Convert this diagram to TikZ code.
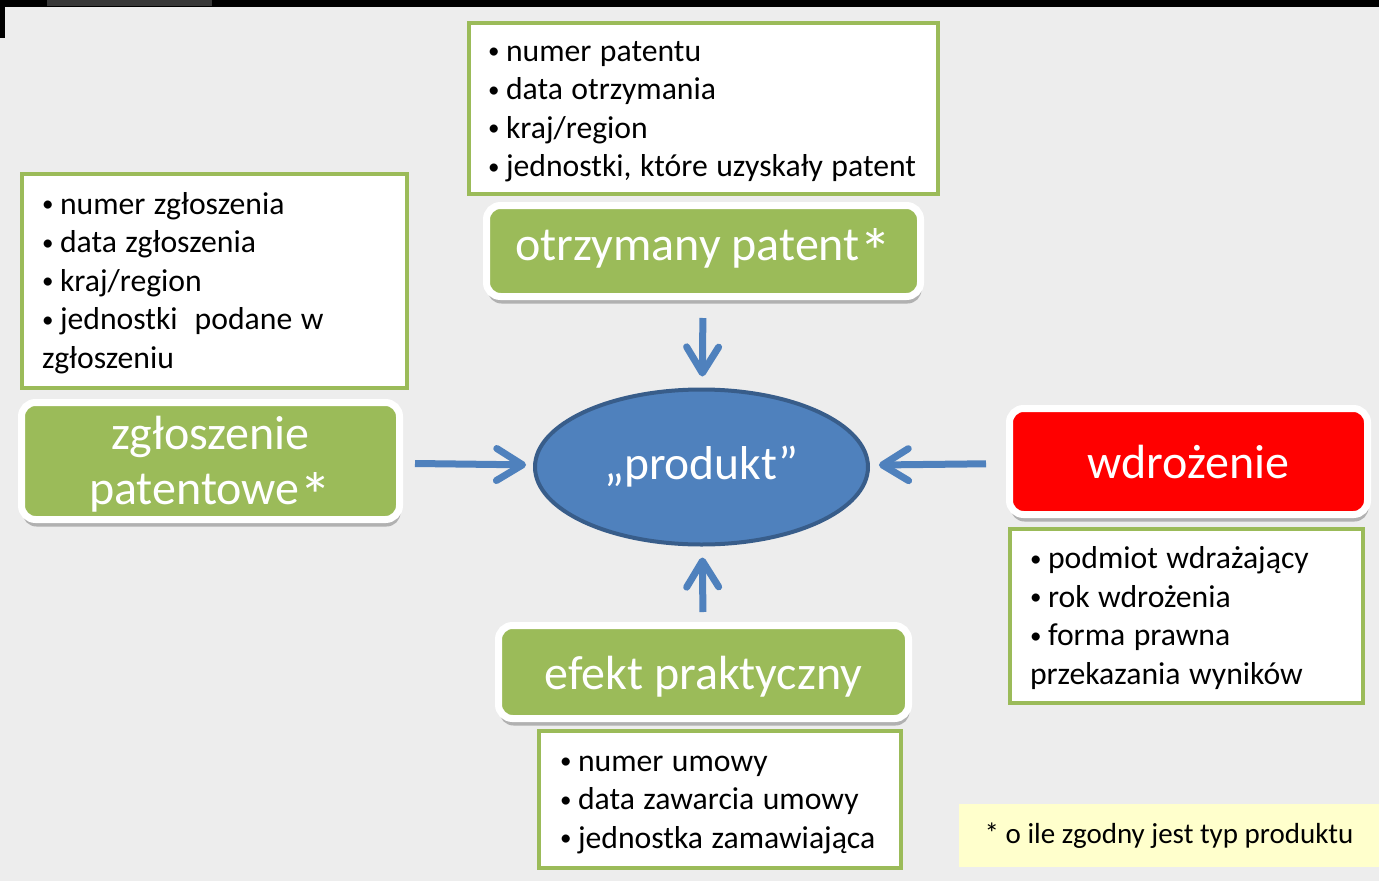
\documentclass[tikz,border=0pt]{standalone}
\usepackage{fontspec}
\setmainfont{Carlito}
\usepackage{graphicx}
\usetikzlibrary{shapes.geometric,arrows.meta,shadows}

\definecolor{pgreen}{HTML}{9BBB59}
\definecolor{pblue}{HTML}{4F81BD}
\definecolor{pblued}{HTML}{385D8A}
\definecolor{pred}{HTML}{FF0000}
\definecolor{pnote}{HTML}{FFFFCC}
\definecolor{pbg}{HTML}{EDEDED}

\newcommand{\pkt}[1]{\mbox{\makebox[18pt][l]{\raisebox{2.5pt}{\fontsize{23}{23}\selectfont•}}#1}}
\newcommand{\stern}{\raisebox{-14pt}{\scalebox{1.35}{*}}}

\tikzset{
    bigbox/.style={rectangle, rounded corners=14pt, fill=pgreen, draw=white, line width=7pt,
        text=white, align=center, inner sep=0pt, font=\fontsize{48}{55}\selectfont,
        drop shadow={shadow xshift=1pt, shadow yshift=-7pt, opacity=0.25, fill=black}},
    infobox/.style={rectangle, fill=white, draw=pgreen, line width=4pt, text=black,
        align=left, inner sep=0pt, font=\fontsize{31.7}{38.5}\selectfont,
        execute at begin node={\spaceskip=8.5pt plus 2pt\relax\rule{0pt}{26pt}}},
    pfeil/.style={draw=pblue, line width=7pt, -{Straight Barb[length=26pt,width=32pt,round]}}
}

\begin{document}
\begin{tikzpicture}[x=1pt,y=-1pt]
    \useasboundingbox (0,0) rectangle (1379,881);
    \fill[pbg] (0,0) rectangle (1379,881);
    \fill[black] (0,0) rectangle (1379,7);
    \fill[black] (0,0) rectangle (5,38);
    \fill[black!78] (47,0) rectangle (212,6);

    \node [infobox, minimum width=469, minimum height=171, text width=431] (ipat) at (703.5,108.5)
        {\pkt{numer patentu}\\\pkt{data otrzymania}\\\pkt{kraj/region}\\\pkt{jednostki, które uzyskały patent}};
    \node [infobox, minimum width=385, minimum height=214, text width=345] (izgl) at (214.5,281)
        {\pkt{numer zgłoszenia}\\\pkt{data zgłoszenia}\\\pkt{kraj/region}\\\pkt{jednostki\ \ podane w}\\zgłoszeniu};
    \node [infobox, minimum width=353, minimum height=174, text width=313] (iwdr) at (1186.5,616)
        {\pkt{podmiot wdrażający}\\\pkt{rok wdrożenia}\\\pkt{forma prawna}\\przekazania wyników};
    \node [infobox, minimum width=362, minimum height=137, text width=320] (iefk) at (720,799.5)
        {\pkt{numer umowy}\\\pkt{data zawarcia umowy}\\\pkt{jednostka zamawiająca}};

    \node [bigbox, minimum width=434, minimum height=91] (pat) at (703.5,251) {otrzymany patent\stern};
    \node [bigbox, minimum width=378, minimum height=117, text width=360] (zgl) at (210.5,461)
        {\rule{0pt}{46pt}zgłoszenie\\patentowe\stern};
    \node [bigbox, fill=pred, minimum width=358, minimum height=106] (wdr) at (1188.5,461.5) {wdrożenie};
    \node [bigbox, minimum width=410, minimum height=93, text height=42pt, text depth=7pt] (efk) at (703.5,672)
        {efekt praktyczny};

    \node [ellipse, fill=pblue, draw=pblued, line width=4pt, text=white, inner sep=0pt,
        minimum width=333, minimum height=155, font=\fontsize{47.5}{55}\selectfont] (prod) at (701.5,467) {„produkt”};

    \node [fill=pnote, minimum width=420, minimum height=63, inner sep=0pt,
        font=\fontsize{29}{35}\selectfont] (uwaga) at (1169,835.5) {* o ile zgodny jest typ produktu};

    \draw [pfeil, shorten <=18pt, shorten >=11pt] (pat) -- (prod);
    \draw [pfeil, shorten <=12pt, shorten >=7pt] (zgl) -- (prod);
    \draw [pfeil, shorten <=20pt, shorten >=9pt] (wdr) -- (prod);
    \draw [pfeil, shorten <=10pt, shorten >=11pt] (efk) -- (prod);

\end{tikzpicture}
\end{document}
